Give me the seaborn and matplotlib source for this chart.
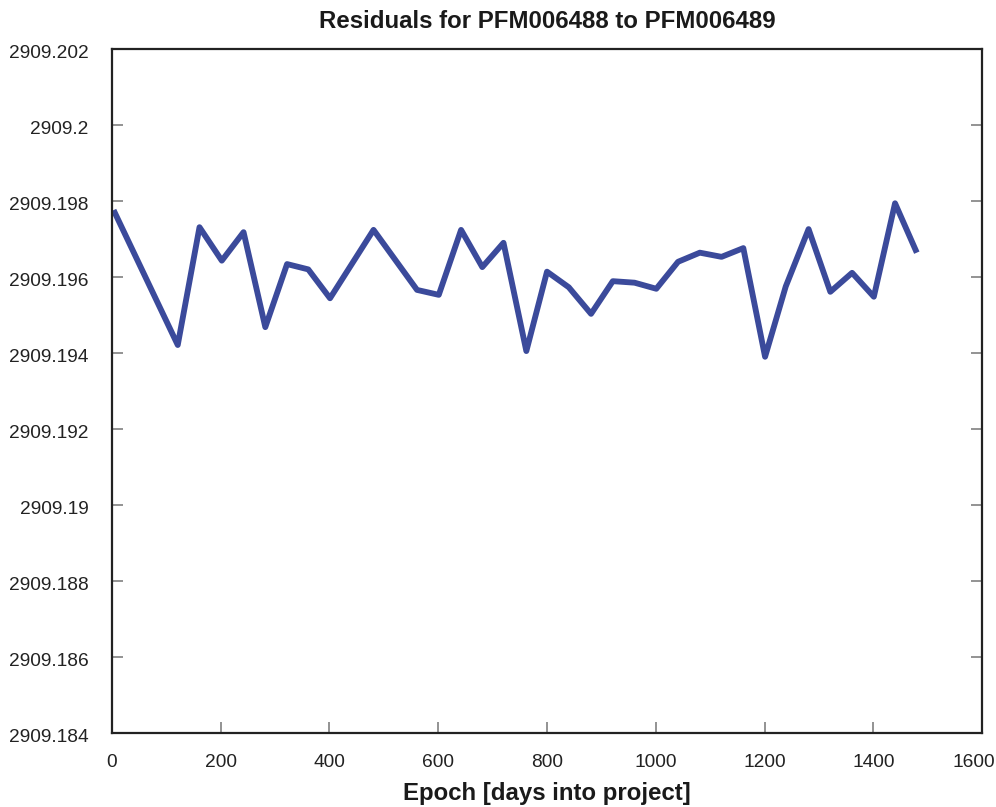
import matplotlib
matplotlib.use("Agg")
import matplotlib.pyplot as plt
import matplotlib.transforms as mtransforms
import seaborn as sns
import pandas as pd

# Epoch (days into project) and fitted residual values
epoch_days = [3, 121, 161, 202, 242, 282, 322, 361, 401, 481, 561, 601,
              642, 681, 720, 762, 800, 840, 881, 921, 961, 1001, 1041, 1081,
              1121, 1161, 1201, 1239, 1281, 1321, 1361, 1401, 1440, 1480]
residuals = [2909.19776, 2909.19421, 2909.19731, 2909.19643, 2909.19718,
             2909.19468, 2909.19634, 2909.19620, 2909.19544, 2909.19724,
             2909.19566, 2909.19553, 2909.19724, 2909.19626, 2909.19690,
             2909.19405, 2909.19614, 2909.19573, 2909.19503, 2909.19589,
             2909.19585, 2909.19569, 2909.19640, 2909.19664, 2909.19653,
             2909.19676, 2909.19390, 2909.19575, 2909.19726, 2909.19561,
             2909.19611, 2909.19548, 2909.19794, 2909.19664]

x_ticks = [0, 200, 400, 600, 800, 1000, 1200, 1400, 1600]
y_ticks = [2909.184, 2909.186, 2909.188, 2909.19, 2909.192, 2909.194,
           2909.196, 2909.198, 2909.2, 2909.202]
y_tick_labels = ["2909.184", "2909.186", "2909.188", "2909.19", "2909.192",
                 "2909.194", "2909.196", "2909.198", "2909.2", "2909.202"]

sns.set_style("white")
plt.rcParams["font.family"] = ["Liberation Sans", "DejaVu Sans"]

df = pd.DataFrame({"epoch": epoch_days, "residual": residuals})

fig = plt.figure(figsize=(9.96, 8.07), dpi=100)
ax = fig.add_axes([0.1124, 0.0917, 0.8736, 0.8476])

sns.lineplot(data=df, x="epoch", y="residual", ax=ax, color="#3b4a9b",
             linewidth=4.2, solid_joinstyle="round", solid_capstyle="butt")

ax.set_xlim(0, 1600)
ax.set_ylim(2909.184, 2909.202)
ax.set_xticks(x_ticks)
ax.set_xticklabels([str(v) for v in x_ticks])
ax.set_yticks(y_ticks)
ax.set_yticklabels(y_tick_labels)

for side in ["left", "right", "top", "bottom"]:
    ax.spines[side].set_visible(True)
    ax.spines[side].set_color("#222222")
    ax.spines[side].set_linewidth(1.6)

ax.tick_params(axis="y", direction="in", length=8, width=1.2, color="#808080",
               left=True, right=True, labelsize=13.8, pad=17,
               labelcolor="#222222")
ax.tick_params(axis="x", direction="in", length=8, width=1.2, color="#808080",
               bottom=True, top=False, labelsize=13.8, pad=15,
               labelcolor="#222222")

# y tick labels sit slightly below their ticks
for lab in ax.get_yticklabels():
    lab.set_transform(lab.get_transform() +
                      mtransforms.ScaledTranslation(0, -0.03, fig.dpi_scale_trans))

# keep the last x tick label inside the figure
last = ax.get_xticklabels()[-1]
last.set_transform(last.get_transform() +
                   mtransforms.ScaledTranslation(-0.08, 0, fig.dpi_scale_trans))

ax.set_xlabel("Epoch [days into project]", fontsize=17.3, fontweight="bold",
              labelpad=8, color="#1a1a1a")
ax.set_ylabel("")
ax.set_title("Residuals for PFM006488 to PFM006489", fontsize=17.3,
             fontweight="bold", pad=15, color="#1a1a1a")

fig.savefig("out.png", dpi=100)
